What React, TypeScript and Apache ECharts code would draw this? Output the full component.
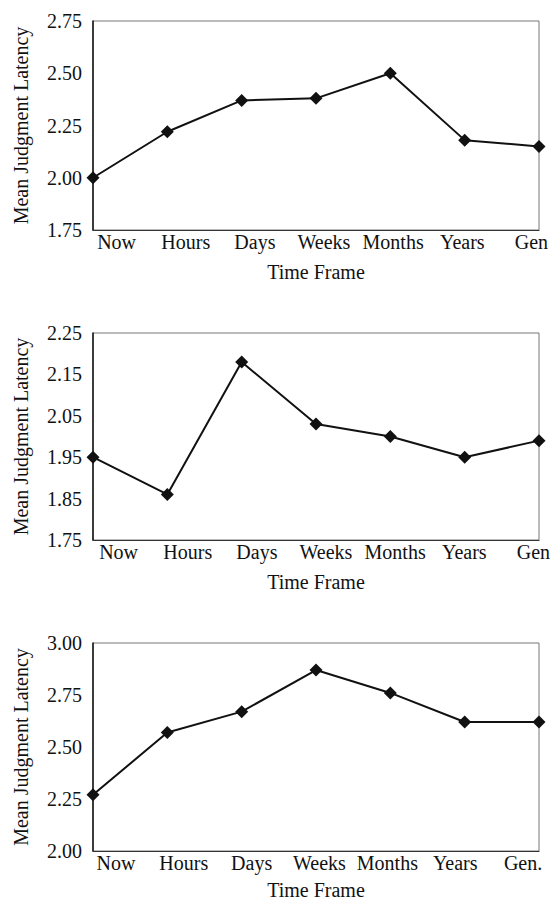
import { useEffect, useRef } from "react";
import * as echarts from "echarts";

const categoriesAB = ["Now", "Hours", "Days", "Weeks", "Months", "Years", "Gen"];
const categoriesC = ["Now", "Hours", "Days", "Weeks", "Months", "Years", "Gen."];
const latencyA = [2.0, 2.22, 2.37, 2.38, 2.5, 2.18, 2.15];
const latencyB = [1.95, 1.86, 2.18, 2.03, 2.0, 1.95, 1.99];
const latencyC = [2.27, 2.57, 2.67, 2.87, 2.76, 2.62, 2.62];
const ticksA = [1.75, 2.0, 2.25, 2.5, 2.75];
const ticksB = [1.75, 1.85, 1.95, 2.05, 2.15, 2.25];
const ticksC = [2.0, 2.25, 2.5, 2.75, 3.0];
const xTitle = "Time Frame";
const yTitle = "Mean Judgment Latency";

const FONT = "Liberation Serif";
const INK = "#111";

export default function App() {
  const ref = useRef<HTMLDivElement>(null);

  useEffect(() => {
    document.body.style.margin = "0";
    if (!ref.current) return;
    const chart = echarts.init(ref.current, undefined, { renderer: "svg" });

    const panels = [
      { cats: categoriesAB, values: latencyA, ticks: ticksA, top: 21, height: 209, lLeft: 82, lWidth: 484, gap: 32 },
      { cats: categoriesAB, values: latencyB, ticks: ticksB, top: 333, height: 207, lLeft: 84, lWidth: 484, gap: 32 },
      { cats: categoriesC, values: latencyC, ticks: ticksC, top: 643, height: 208, lLeft: 82, lWidth: 475, gap: 29 },
    ];

    const grid: any[] = [];
    const xAxis: any[] = [];
    const yAxis: any[] = [];
    const series: any[] = [];

    panels.forEach((p, i) => {
      const g = i * 2;
      grid.push({
        left: 93,
        top: p.top,
        width: 446,
        height: p.height,
        show: true,
        borderColor: "#777",
        borderWidth: 1,
        outerBoundsMode: "none",
        containLabel: false,
      });
      grid.push({
        left: p.lLeft,
        top: p.top,
        width: p.lWidth,
        height: p.height,
        show: false,
        outerBoundsMode: "none",
        containLabel: false,
      });

      xAxis.push({
        type: "category",
        gridIndex: g,
        data: p.cats,
        boundaryGap: false,
        axisLine: { show: true, lineStyle: { color: "#333", width: 1.2 } },
        axisTick: { show: false },
        axisLabel: { show: false },
        splitLine: { show: false },
        name: xTitle,
        nameLocation: "middle",
        nameGap: p.gap,
        nameTextStyle: { fontFamily: FONT, fontSize: 20, color: INK },
      });
      xAxis.push({
        type: "category",
        gridIndex: g + 1,
        data: p.cats,
        boundaryGap: true,
        axisLine: { show: false },
        axisTick: { show: false },
        splitLine: { show: false },
        axisLabel: { fontFamily: FONT, fontSize: 20, color: INK, margin: 2, interval: 0, hideOverlap: false },
      });

      const min = p.ticks[0];
      const max = p.ticks[p.ticks.length - 1];
      yAxis.push({
        type: "value",
        gridIndex: g,
        min,
        max,
        axisLine: { show: true, lineStyle: { color: "#111", width: 1.5 } },
        axisTick: { show: false },
        splitLine: { show: false },
        axisLabel: {
          customValues: p.ticks,
          fontFamily: FONT,
          fontSize: 20,
          color: INK,
          margin: 11,
          formatter: (v: number) => v.toFixed(2),
        },
        name: yTitle,
        nameLocation: "middle",
        nameGap: 62,
        nameTextStyle: { fontFamily: FONT, fontSize: 20, color: INK },
      });
      yAxis.push({ type: "value", gridIndex: g + 1, show: false, min, max });

      series.push({
        type: "line",
        xAxisIndex: g,
        yAxisIndex: g,
        data: p.values,
        symbol: "diamond",
        symbolSize: 13,
        clip: false,
        lineStyle: { color: INK, width: 2 },
        itemStyle: { color: INK },
      });
    });

    chart.setOption({
      animation: false,
      backgroundColor: "#fff",
      textStyle: { fontFamily: FONT },
      grid,
      xAxis,
      yAxis,
      series,
    });

    return () => chart.dispose();
  }, []);

  return <div ref={ref} style={{ width: 554, height: 901 }} />;
}
